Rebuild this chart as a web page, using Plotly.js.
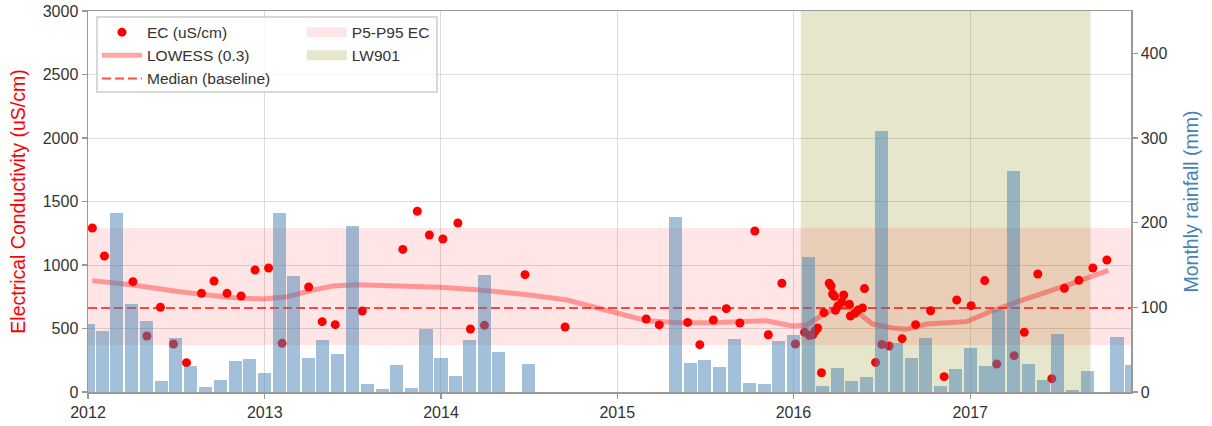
<!DOCTYPE html>
<html>
<head>
<meta charset="utf-8">
<script src="https://cdn.plot.ly/plotly-3.0.1.min.js"></script>
<style>html,body{margin:0;padding:0;background:#fff;}#chart{width:1212px;height:426px;}</style>
</head>
<body>
<div id="chart"></div>
<script>
// ---- Data ----
const ecDates = [
 '2012-01-10','2012-02-04','2012-04-03','2012-05-02','2012-05-30','2012-06-26','2012-07-23','2012-08-23',
 '2012-09-18','2012-10-15','2012-11-13','2012-12-12','2013-01-09','2013-02-06','2013-04-02','2013-04-30',
 '2013-05-27','2013-07-22','2013-10-14','2013-11-13','2013-12-08','2014-01-05','2014-02-05','2014-03-03',
 '2014-04-01','2014-06-24','2014-09-15','2015-03-02','2015-03-29','2015-05-27','2015-06-21','2015-07-19',
 '2015-08-15','2015-09-12','2015-10-13','2015-11-10','2015-12-08','2016-01-05','2016-01-24','2016-02-03',
 '2016-02-10','2016-02-15','2016-02-20','2016-02-28','2016-03-04','2016-03-15','2016-03-19','2016-03-22',
 '2016-03-26','2016-03-28','2016-04-02','2016-04-10','2016-04-14','2016-04-26','2016-04-28','2016-05-07',
 '2016-05-14','2016-05-23','2016-05-27','2016-06-19','2016-07-02','2016-07-17','2016-08-13','2016-09-10',
 '2016-10-11','2016-11-08','2016-12-04','2017-01-03','2017-01-31','2017-02-25','2017-04-02','2017-04-23',
 '2017-05-21','2017-06-19','2017-07-15','2017-08-14','2017-09-12','2017-10-11'
];
const ecValues = [
 1291,1071,869,441,667,378,231,777,
 874,777,756,961,976,383,827,554,
 530,638,1123,1423,1236,1205,1331,496,
 525,924,512,575,528,548,373,567,
 656,543,1268,451,856,378,470,444,
 451,480,504,152,625,856,835,772,
 753,643,677,709,764,690,598,619,
 646,661,814,233,375,362,420,530,
 640,121,724,680,877,220,286,470,
 929,105,816,879,976,1039
];
const lowessDates = [
 '2012-01-10','2012-04-03','2012-07-09','2012-10-21','2012-12-29','2013-02-17','2013-04-11','2013-05-22',
 '2013-07-11','2013-10-08','2013-12-30','2014-03-23','2014-07-04','2014-09-19','2014-12-23','2015-03-03',
 '2015-05-10','2015-07-17','2015-11-06','2015-12-30','2016-01-28','2016-03-01','2016-04-05','2016-05-02',
 '2016-06-13','2016-07-24','2016-08-22','2016-10-03','2016-11-13','2016-12-25','2017-02-11','2017-04-19',
 '2017-08-01','2017-10-14'
];
const lowessValues = [
 877,843,790,745,732,750,803,835,
 845,835,824,803,764,724,632,561,
 546,546,561,520,528,606,667,659,
 535,504,494,535,546,554,632,724,
 856,957
];
// monthly rainfall, Jan 2012 .. Dec 2017 (mm)
const rainfall = [
 80,72,212,104,84,13,64,31,6,14,37,39,
 22,211,137,40,62,45,196,9,4,32,5,74,
 40,19,62,138,47,0,33,0,0,0,0,0,
 0,0,0,0,207,34,38,30,63,11,9,60,
 67,160,7,28,13,18,308,58,40,64,7,27,
 52,31,97,261,33,14,69,2,25,0,65,32
];
const rainStartYear = 2012;
const rainMonths = [];
for (let i = 0; i < rainfall.length; i++) {
  const y = rainStartYear + Math.floor(i / 12), m = (i % 12) + 1;
  rainMonths.push(y + '-' + String(m).padStart(2, '0') + '-01');
}
const medianEC = 661;
const p5EC = 370, p95EC = 1291;
const lw901Start = '2016-01-16', lw901End = '2017-09-07';
const xStart = '2012-01-01', xEnd = '2017-11-30';
const ecMax = 3000, rainMax = 450;

const FONT = 'Liberation Sans, Arial, sans-serif';
const DAY = 86400000;
const PINK = 'rgba(255,0,0,0.1)';
const OLIVE = 'rgba(128,128,0,0.2)';

const traces = [
  { // LW901 span
    x: [lw901Start, lw901End, lw901End, lw901Start, lw901Start],
    y: [0, 0, ecMax, ecMax, 0],
    type: 'scatter', mode: 'lines', fill: 'toself',
    fillcolor: OLIVE, line: {width: 0, color: 'rgba(0,0,0,0)'},
    name: 'LW901', showlegend: false, hoverinfo: 'skip'
  },
  { // P5-P95 band
    x: [xStart, xEnd, xEnd, xStart, xStart],
    y: [p5EC, p5EC, p95EC, p95EC, p5EC],
    type: 'scatter', mode: 'lines', fill: 'toself',
    fillcolor: PINK, line: {width: 0, color: 'rgba(0,0,0,0)'},
    name: 'P5-P95 EC', showlegend: false, hoverinfo: 'skip'
  },
  { // legend swatches for the two spans
    x: [null], y: [null], type: 'scatter', mode: 'lines',
    line: {color: PINK, width: 11}, name: 'P5-P95 EC', legend: 'legend2', legendrank: 1
  },
  {
    x: [null], y: [null], type: 'scatter', mode: 'lines',
    line: {color: OLIVE, width: 11}, name: 'LW901', legend: 'legend2', legendrank: 2
  },
  {
    x: lowessDates, y: lowessValues, type: 'scatter', mode: 'lines',
    line: {color: 'rgba(255,0,0,0.35)', width: 5},
    name: 'LOWESS (0.3)', legendrank: 2
  },
  {
    x: [xStart, xEnd], y: [medianEC, medianEC], type: 'scatter', mode: 'lines',
    line: {color: 'rgba(255,0,0,0.7)', width: 2, dash: '9px,4px'},
    name: 'Median (baseline)', legendrank: 3
  },
  {
    x: ecDates, y: ecValues, type: 'scatter', mode: 'markers',
    marker: {color: '#ff0000', size: 9},
    name: 'EC (uS/cm)', legendrank: 1
  },
  {
    x: rainMonths, y: rainfall, type: 'bar', yaxis: 'y2',
    width: 27 * DAY,
    marker: {color: 'rgba(70,130,180,0.5)', line: {width: 0}},
    name: 'Monthly rainfall', showlegend: false
  }
];

const layout = {
  width: 1212, height: 426,
  margin: {l: 88, r: 81, t: 11, b: 34, pad: 0},
  paper_bgcolor: '#fff', plot_bgcolor: '#fff',
  font: {family: FONT, size: 16, color: '#333'},
  showlegend: true,
  bargap: 0,
  xaxis: {
    type: 'date', range: [xStart, xEnd],
    dtick: 'M12', tick0: '2012-01-01', tickformat: '%Y',
    showgrid: true, gridcolor: '#dcdcdc', gridwidth: 1,
    showline: true, linecolor: '#999', linewidth: 1.5, mirror: true,
    ticks: 'outside', ticklen: 5, tickcolor: '#999', tickwidth: 1.2,
    tickfont: {size: 16, color: '#333'}, zeroline: false
  },
  yaxis: {
    range: [0, ecMax], dtick: 500, tick0: 0,
    showgrid: true, gridcolor: '#dcdcdc', gridwidth: 1,
    showline: true, linecolor: '#999', linewidth: 1.5,
    ticks: 'outside', ticklen: 5, tickcolor: '#999', tickwidth: 1.2,
    tickfont: {size: 16, color: '#333'}, zeroline: false,
    title: {text: 'Electrical Conductivity (uS/cm)', font: {size: 19.5, color: '#ff0000'}, standoff: 12}
  },
  yaxis2: {
    overlaying: 'y', side: 'right', range: [0, rainMax], dtick: 100, tick0: 0,
    showgrid: false, showline: true, linecolor: '#999', linewidth: 1.5,
    ticks: 'outside', ticklen: 5, tickcolor: '#999', tickwidth: 1.2,
    tickfont: {size: 16, color: '#333'}, zeroline: false,
    title: {text: 'Monthly rainfall (mm)', font: {size: 19.5, color: '#4682b4'}, standoff: 18}
  },
  legend: {
    x: 0.0086, y: 0.988, xanchor: 'left', yanchor: 'top',
    bgcolor: 'rgba(0,0,0,0)', borderwidth: 0,
    font: {size: 15.5, color: '#333'}, traceorder: 'normal', itemwidth: 40
  },
  legend2: {
    x: 0.205, y: 0.988, xanchor: 'left', yanchor: 'top',
    bgcolor: 'rgba(0,0,0,0)', borderwidth: 0,
    font: {size: 15.5, color: '#333'}, traceorder: 'normal', itemwidth: 40
  },
  shapes: [{
    type: 'rect', xref: 'paper', yref: 'paper',
    x0: 0.0086, x1: 0.3346, y0: 0.7874, y1: 0.984,
    fillcolor: 'rgba(255,255,255,0.8)', line: {color: '#cccccc', width: 1.5},
    layer: 'above'
  }]
};

Plotly.newPlot('chart', traces, layout, {displayModeBar: false, staticPlot: true});
</script>
</body>
</html>
